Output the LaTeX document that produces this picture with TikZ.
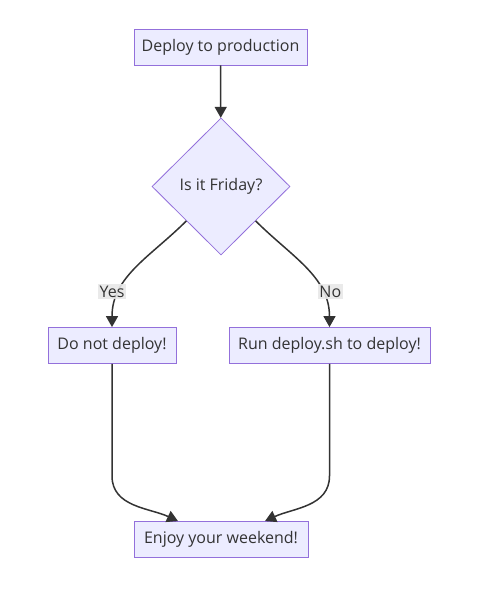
\documentclass[tikz,border=0pt]{standalone}
\usepackage{fontspec}
\setmainfont{Open Sans}
\usetikzlibrary{arrows.meta,shapes.geometric,positioning}
\definecolor{mmfill}{HTML}{ECECFF}
\definecolor{mmline}{HTML}{9370DB}
\definecolor{mmtext}{HTML}{333333}
\definecolor{mmlabel}{HTML}{E8E8E8}

\begin{document}
\begin{tikzpicture}[
    x=1pt, y=-1pt,
    box/.style={draw=mmline, fill=mmfill, line width=0.8pt, minimum height=36pt, inner sep=0pt, text=mmtext, font=\fontsize{16}{18}\selectfont},
    choice/.style={diamond, draw=mmline, fill=mmfill, line width=0.8pt, minimum width=138pt, minimum height=137pt, inner sep=0pt, text=mmtext, font=\fontsize{16}{18}\selectfont},
    lbl/.style={fill=mmlabel, fill opacity=0.9, text opacity=1, inner sep=1.5pt, text=mmtext, font=\fontsize{16}{18}\selectfont},
    arr/.style={-{Triangle[length=11pt, width=12pt]}, draw=mmtext, line width=1.5pt}
]
\useasboundingbox (0,0) rectangle (482,600);

\node[box, minimum width=173pt] (deploy) at (220.5,47) {Deploy to production};
\node[choice] (friday) at (221,186.5) {Is it Friday?};
\node[box, minimum width=128pt] (stop) at (112,345.5) {Do not deploy!};
\node[box, minimum width=201pt] (run) at (329.5,345.5) {Run deploy.sh to deploy!};
\node[box, minimum width=174pt] (enjoy) at (221,539.5) {Enjoy your weekend!};

\draw[arr] (deploy) -- (friday);
\draw[arr] (friday.south west) to[out=225, in=90] (stop.north);
\draw[arr] (friday.south east) to[out=-45, in=90] (run.north);
\draw[arr] (stop.south) -- ++(0,112) to[out=-90, in=155] ([xshift=-43pt]enjoy.north);
\draw[arr] (run.south) -- ++(0,112) to[out=-90, in=25] ([xshift=44pt]enjoy.north);

\node[lbl] (yes) at (112,291.5) {Yes};
\node[lbl] (no) at (330.3,291.5) {No};
\end{tikzpicture}
\end{document}
